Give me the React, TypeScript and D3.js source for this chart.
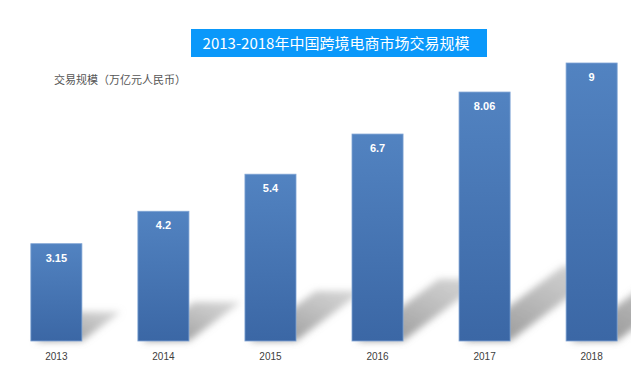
import React from "react";
import * as d3 from "d3";

// 2013-2018 cross-border e-commerce scale (trillion RMB)
const years = ["2013", "2014", "2015", "2016", "2017", "2018"];
const values = [3.15, 4.2, 5.4, 6.7, 8.06, 9];
const valueLabels = ["3.15", "4.2", "5.4", "6.7", "8.06", "9"];

const titleText = "2013-2018年中国跨境电商市场交易规模";
const yLabelText = "交易规模（万亿元人民币）";

const W = 631;
const H = 372;

export default function App() {
  const x = d3.scaleBand<string>()
    .domain(years)
    .range([3, 645])
    .paddingInner(0.523)
    .paddingOuter(0.26);

  const y = d3.scaleLinear().domain([0, 9]).range([341, 63]);
  const base = y(0);
  const bw = x.bandwidth();

  const cjk = "'Noto Sans CJK SC', 'Noto Sans', sans-serif";
  const latin = "'Liberation Sans', 'DejaVu Sans', sans-serif";

  return (
    <svg
      width={W}
      height={H}
      style={{ position: "absolute", left: 0, top: 0, background: "#fff" }}
    >
      <defs>
        <linearGradient id="barFill" x1="0" y1="0" x2="0" y2="1">
          <stop offset="0%" stopColor="#5283c1" />
          <stop offset="100%" stopColor="#3b67a5" />
        </linearGradient>
        <linearGradient id="shadowFill" x1="0" y1="1" x2="1" y2="0">
          <stop offset="0%" stopColor="#7a7a7a" stopOpacity={0.85} />
          <stop offset="100%" stopColor="#b0b0b0" stopOpacity={0.5} />
        </linearGradient>
        <filter id="blur" x="-30%" y="-30%" width="160%" height="160%">
          <feGaussianBlur stdDeviation="3.5" />
        </filter>
      </defs>

      {/* skewed shadows behind the bars */}
      <g filter="url(#blur)">
        {years.map((yr, i) => {
          const x0 = x(yr)!;
          const h = base - y(values[i]);
          const dx = h * 0.4;
          const dy = h * 0.3;
          const pts = [
            [x0 + 4, base],
            [x0 + bw, base],
            [x0 + bw + dx, base - dy],
            [x0 + 4 + dx, base - dy],
          ];
          return (
            <polygon
              key={"s" + yr}
              points={pts.map((p) => p.join(",")).join(" ")}
              fill="url(#shadowFill)"
            />
          );
        })}
      </g>

      {/* bars */}
      {years.map((yr, i) => (
        <rect
          key={"b" + yr}
          x={x(yr)!}
          y={y(values[i])}
          width={bw}
          height={base - y(values[i])}
          fill="url(#barFill)"
          stroke="#7fa4d4"
          strokeWidth={0.8}
        />
      ))}

      {/* value labels */}
      {years.map((yr, i) => (
        <text
          key={"v" + yr}
          x={x(yr)! + bw / 2}
          y={y(values[i]) + 18}
          textAnchor="middle"
          fontFamily={latin}
          fontWeight="bold"
          fontSize={11}
          fill="#ffffff"
        >
          {valueLabels[i]}
        </text>
      ))}

      {/* x axis labels */}
      {years.map((yr) => (
        <text
          key={"x" + yr}
          x={x(yr)! + bw / 2}
          y={359.5}
          textAnchor="middle"
          fontFamily={latin}
          fontSize={10}
          fill="#404040"
        >
          {yr}
        </text>
      ))}

      {/* title */}
      <rect x={191} y={29} width={296} height={28} fill="#0a98fa" />
      <text
        x={336}
        y={48.5}
        textAnchor="middle"
        fontFamily={cjk}
        fontSize={15}
        fill="#ffffff"
      >
        {titleText}
      </text>

      {/* y axis title */}
      <text x={54} y={84} fontFamily={cjk} fontSize={11} fill="#555555">
        {yLabelText}
      </text>
    </svg>
  );
}
